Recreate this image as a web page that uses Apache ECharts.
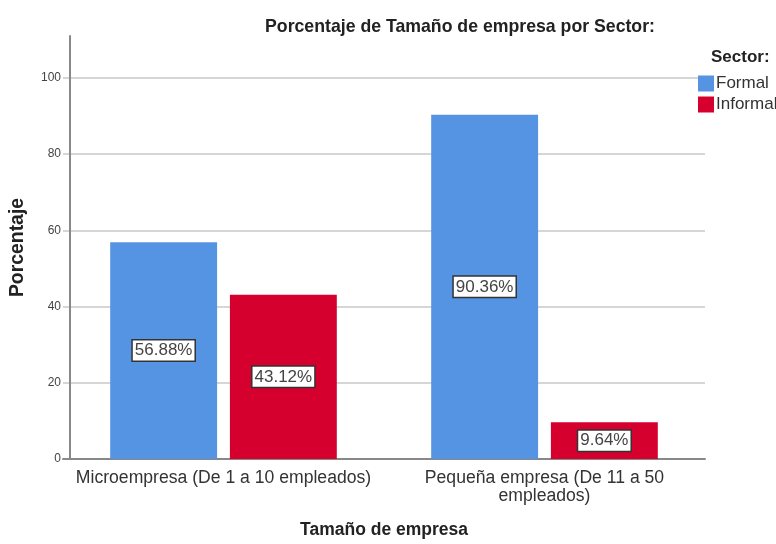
<!DOCTYPE html>
<html>
<head>
<meta charset="utf-8">
<script src="https://cdn.jsdelivr.net/npm/echarts@6/dist/echarts.min.js"></script>
<style>
  html, body { margin: 0; padding: 0; background: #fff; }
  #chart { width: 776px; height: 544px; }
</style>
</head>
<body>
<div id="chart"></div>
<script>
// categorias y valores (porcentaje)
const categorias = ["Microempresa (De 1 a 10 empleados)", "Pequeña empresa (De 11 a 50\nempleados)"];
const formal = [56.88, 90.36];
const informal = [43.12, 9.64];
const yTicks = [0, 20, 40, 60, 80, 100];

const font = "Liberation Sans, Arial, sans-serif";

const labelBox = {
  show: true,
  position: "inside",
  formatter: function(p) { return p.value.toFixed(2) + "%"; },
  color: "#444",
  fontFamily: font,
  fontSize: 17,
  backgroundColor: "#fff",
  borderColor: "#333",
  borderWidth: 1.5,
  padding: [2, 2, 1, 2]
};

var myChart = echarts.init(document.getElementById("chart"));
myChart.setOption({
  animation: false,
  title: [
    {
      text: "Porcentaje de Tamaño de empresa por Sector:",
      left: 455,
      top: 13,
      textAlign: "center",
      textStyle: { fontFamily: font, fontSize: 17.7, fontWeight: "bold", color: "#222" }
    },
    {
      text: "Sector:",
      left: 706,
      top: 44,
      textStyle: { fontFamily: font, fontSize: 17, fontWeight: "bold", color: "#222" }
    }
  ],
  legend: {
    orient: "vertical",
    left: 693,
    top: 70,
    icon: "rect",
    itemWidth: 16,
    itemHeight: 16,
    itemGap: 4,
    textStyle: { fontFamily: font, fontSize: 17, color: "#333", padding: [0, 0, 0, -3] },
    data: ["Formal", "Informal"]
  },
  grid: { left: 62, right: 71, top: 36, bottom: 79, containLabel: false },
  xAxis: {
    type: "category",
    data: categorias,
    name: "Tamaño de empresa",
    nameLocation: "middle",
    nameGap: 62,
    nameTextStyle: { fontFamily: font, fontSize: 17.5, fontWeight: "bold", color: "#222" },
    axisLine: { lineStyle: { color: "#888", width: 2 } },
    axisTick: { show: false },
    axisLabel: { fontFamily: font, fontSize: 17.6, color: "#333", margin: 10, lineHeight: 18, interval: 0 }
  },
  yAxis: {
    type: "value",
    min: 0,
    max: 111,
    interval: 20,
    offset: -7,
    name: "Porcentaje",
    nameLocation: "middle",
    nameGap: 43,
    nameTextStyle: { fontFamily: font, fontSize: 19.4, fontWeight: "bold", color: "#222" },
    axisLine: { show: true, lineStyle: { color: "#888", width: 2 } },
    axisTick: { show: false },
    axisLabel: {
      fontFamily: font, fontSize: 12, color: "#444", margin: 9,
      formatter: function(v) { return yTicks.indexOf(v) >= 0 ? v : ""; }
    },
    splitLine: { showMaxLine: false, lineStyle: { color: "#d6d6d6", width: 2 } }
  },
  series: [
    {
      name: "Formal",
      type: "bar",
      data: formal,
      barWidth: "33.3%",
      barGap: "12%",
      itemStyle: { color: "#5593E3" },
      label: labelBox
    },
    {
      name: "Informal",
      type: "bar",
      data: informal,
      barWidth: "33.3%",
      itemStyle: { color: "#D6002F" },
      label: labelBox
    }
  ]
});
</script>
</body>
</html>
